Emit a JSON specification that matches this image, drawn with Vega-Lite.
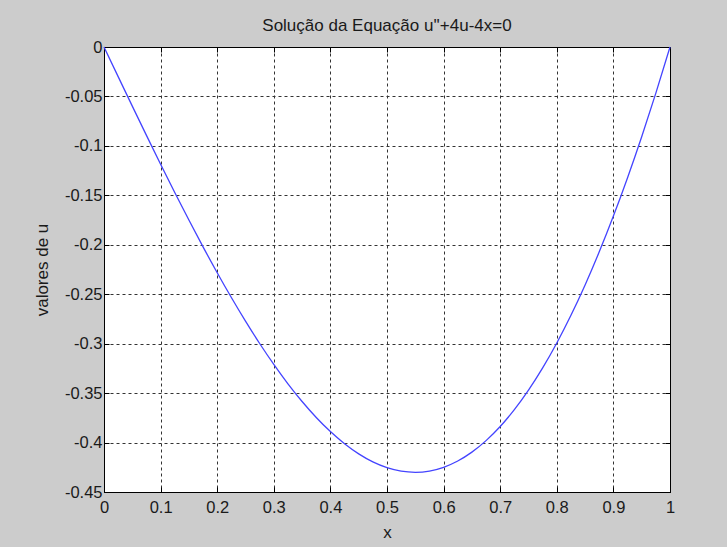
{
  "$schema": "https://vega.github.io/schema/vega-lite/v6.json",
  "width": 566,
  "height": 445,
  "autosize": {"type": "none"},
  "padding": {"left": 104, "top": 47, "right": 57, "bottom": 55},
  "background": "#cccccc",
  "config": {
    "view": {"fill": "white", "stroke": "black", "strokeWidth": 1},
    "font": "Liberation Sans",
    "axis": {"labelFont": "Liberation Sans", "titleFont": "Liberation Sans", "labelColor": "#1a1a1a", "titleColor": "#1a1a1a", "titleFontWeight": "normal"}
  },
  "title": {"text": "Solução da Equação u''+4u-4x=0", "fontSize": 17, "fontWeight": "normal", "font": "Liberation Sans", "color": "#1a1a1a", "anchor": "middle", "frame": "group", "baseline": "alphabetic", "offset": -9},
  "data": {"values": [
    {"x": 0, "u": 0},
    {"x": 0.025, "u": -0.029965},
    {"x": 0.05, "u": -0.059792},
    {"x": 0.075, "u": -0.089345},
    {"x": 0.1, "u": -0.118487},
    {"x": 0.125, "u": -0.147083},
    {"x": 0.15, "u": -0.174998},
    {"x": 0.175, "u": -0.202102},
    {"x": 0.2, "u": -0.228263},
    {"x": 0.225, "u": -0.253354},
    {"x": 0.25, "u": -0.277249},
    {"x": 0.275, "u": -0.299825},
    {"x": 0.3, "u": -0.320965},
    {"x": 0.325, "u": -0.340554},
    {"x": 0.35, "u": -0.358479},
    {"x": 0.375, "u": -0.374633},
    {"x": 0.4, "u": -0.388912},
    {"x": 0.425, "u": -0.40122},
    {"x": 0.45, "u": -0.411464},
    {"x": 0.475, "u": -0.419555},
    {"x": 0.5, "u": -0.425408},
    {"x": 0.525, "u": -0.428949},
    {"x": 0.55, "u": -0.430105},
    {"x": 0.575, "u": -0.428813},
    {"x": 0.6, "u": -0.425011},
    {"x": 0.625, "u": -0.418647},
    {"x": 0.65, "u": -0.409674},
    {"x": 0.675, "u": -0.398052},
    {"x": 0.7, "u": -0.383749},
    {"x": 0.725, "u": -0.366737},
    {"x": 0.75, "u": -0.346996},
    {"x": 0.775, "u": -0.324513},
    {"x": 0.8, "u": -0.299282},
    {"x": 0.825, "u": -0.271303},
    {"x": 0.85, "u": -0.240584},
    {"x": 0.875, "u": -0.207139},
    {"x": 0.9, "u": -0.17099},
    {"x": 0.925, "u": -0.132163},
    {"x": 0.95, "u": -0.090694},
    {"x": 0.975, "u": -0.046624},
    {"x": 1, "u": 0}
  ]},
  "layer": [
    {
      "mark": {"type": "line", "color": "#4444ff", "strokeWidth": 1.3, "interpolate": "monotone"},
      "encoding": {
        "x": {"field": "x", "type": "quantitative", "title": "x",
          "scale": {"domain": [0, 1], "nice": false, "zero": false},
          "axis": {"orient": "bottom", "values": [0, 0.1, 0.2, 0.3, 0.4, 0.5, 0.6, 0.7, 0.8, 0.9, 1],
            "labelExpr": "'' + datum.value", "labelFontSize": 16.5, "labelPadding": 12, "labelFlush": false,
            "tickSize": -5, "tickColor": "black", "domainColor": "black",
            "grid": true, "gridDash": [3, 3], "gridColor": "#333333", "gridWidth": 1,
            "titleFontSize": 17, "titleY": 40, "titleBaseline": "middle"}},
        "y": {"field": "u", "type": "quantitative", "title": "valores de u",
          "scale": {"domain": [-0.45, 0], "nice": false, "zero": false},
          "axis": {"orient": "left", "values": [0, -0.05, -0.1, -0.15, -0.2, -0.25, -0.3, -0.35, -0.4, -0.45],
            "labelExpr": "'' + datum.value", "labelFontSize": 16.5, "labelPadding": 7, "labelFlush": false,
            "tickSize": -5, "tickColor": "black", "domainColor": "black",
            "grid": true, "gridDash": [3, 3], "gridColor": "#333333", "gridWidth": 1,
            "titleFontSize": 17, "titleX": -62, "titleY": 222.5, "titleBaseline": "middle"}}
      }
    },
    {
      "mark": {"type": "line", "opacity": 0},
      "encoding": {
        "x": {"field": "x", "type": "quantitative",
          "axis": {"orient": "top", "values": [0, 0.1, 0.2, 0.3, 0.4, 0.5, 0.6, 0.7, 0.8, 0.9, 1], "labels": false, "title": null, "grid": false, "tickSize": -5, "tickColor": "black", "domainColor": "black"}},
        "y": {"field": "u", "type": "quantitative",
          "axis": {"orient": "right", "values": [0, -0.05, -0.1, -0.15, -0.2, -0.25, -0.3, -0.35, -0.4, -0.45], "labels": false, "title": null, "grid": false, "tickSize": -5, "tickColor": "black", "domainColor": "black"}}
      }
    }
  ],
  "resolve": {"axis": {"x": "independent", "y": "independent"}}
}
